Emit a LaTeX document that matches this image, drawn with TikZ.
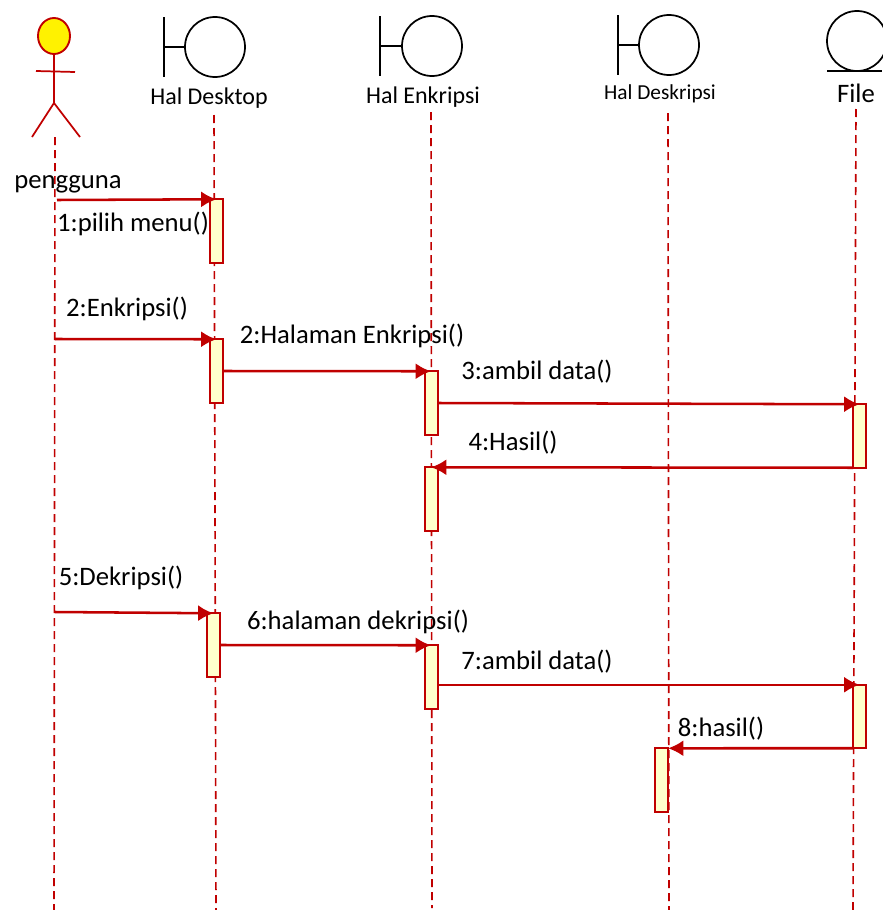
\documentclass[tikz,border=0pt]{standalone}
\usepackage{fontspec}
\setmainfont{Carlito}
\usetikzlibrary{arrows.meta,shapes.geometric}
\definecolor{umlred}{RGB}{192,0,0}
\definecolor{umlfill}{RGB}{255,255,204}
\tikzset{
    boundary/.style={circle,draw=black,line width=1.3pt,minimum size=45pt,inner sep=0pt,outer sep=0pt},
    head/.style={ellipse,draw=umlred,fill=yellow,line width=1.4pt,minimum width=24pt,minimum height=27pt,inner sep=0pt,outer sep=0pt},
    active/.style={rectangle,draw=umlred,fill=umlfill,line width=1.5pt,minimum width=9.75pt,minimum height=47.6pt,inner sep=0pt,outer sep=0pt},
    lifeline/.style={draw=umlred,line width=1.2pt,dash pattern=on 6pt off 3.75pt},
    stick/.style={draw=umlred,line width=1.3pt},
    bar/.style={draw=black,line width=1.3pt},
    msg/.style={draw=umlred,line width=1.9pt,-{Latex[length=11.5pt,width=12pt]}},
    label/.style={inner sep=0pt,font=\fontsize{20}{22}\selectfont},
    title/.style={inner sep=0pt,font=\fontsize{18}{20}\selectfont},
}
\begin{document}
\begin{tikzpicture}[x=0.75pt,y=-0.75pt]
\useasboundingbox (0,0) rectangle (882,910);
% lifelines
\coordinate (Pe) at (54,910);
\coordinate (Pt) at (55,137);
\coordinate (Dt) at (214,115);
\coordinate (De) at (216,910);
\coordinate (Et) at (431,112);
\coordinate (Ee) at (432,908);
\coordinate (St) at (668,113);
\coordinate (Se) at (669,910);
\coordinate (Ft) at (856,109);
\coordinate (Fe) at (853,910);
\draw[lifeline] (Pt) -- (Pe);
\draw[lifeline] (Dt) -- (De);
\draw[lifeline] (Et) -- (Ee);
\draw[lifeline] (St) -- (Se);
\draw[lifeline] (Ft) -- (Fe);
% pengguna
\node[head] (Ph) at (54,36) {};
\coordinate (Pw) at (54,103);
\coordinate (Pa) at (36,71);
\coordinate (Pb) at (75,72);
\coordinate (Pc) at (32,137);
\coordinate (Pd) at (80,137);
\draw[stick] (Ph) -- (Pw);
\draw[stick] (Pa) -- (Pb);
\draw[stick] (Pc) -- (Pw) -- (Pd);
\node[label] (Pn) at (68,184) {pengguna};
% boundaries
\node[boundary] (D) at (215,47) {};
\coordinate (D1) at (164,17);
\coordinate (D2) at (164,77);
\coordinate (D3) at (164,47);
\draw[bar] (D1) -- (D2);
\draw[bar] (D3) -- (D);
\node[title] (Dn) at (209,98) {Hal Desktop};
\node[boundary] (E) at (432,46) {};
\coordinate (E1) at (380,16);
\coordinate (E2) at (380,76);
\coordinate (E3) at (380,46);
\draw[bar] (E1) -- (E2);
\draw[bar] (E3) -- (E);
\node[title] (En) at (423,97) {Hal Enkripsi};
\node[boundary] (S) at (669,45) {};
\coordinate (S1) at (618,15);
\coordinate (S2) at (618,75);
\coordinate (S3) at (618,45);
\draw[bar] (S1) -- (S2);
\draw[bar] (S3) -- (S);
\node[title,font=\fontsize{16}{18}\selectfont] (Sn) at (660,94) {Hal Deskripsi};
\node[boundary] (F) at (857,41) {};
\coordinate (F1) at (827,71);
\coordinate (F2) at (882,71);
\draw[bar] (F1) -- (F2);
\node[label] (Fn) at (856,93) {File};
% activations
\node[active] (d1) at (216.5,231) {};
\node[active] (d2) at (216.5,371) {};
\node[active] (d3) at (213.5,645) {};
\node[active] (e1) at (431,403) {};
\node[active] (e2) at (431,499) {};
\node[active] (e3) at (431,677) {};
\node[active] (s1) at (661.5,780) {};
\node[active] (f1) at (859.5,436) {};
\node[active] (f2) at (859.5,716.5) {};
% messages
\coordinate (m1) at (57,200);
\coordinate (m2) at (55,339);
\coordinate (m5) at (55,612);
\draw[msg] (m1) -- (d1.north);
\draw[msg] (m2) -- (d2.north);
\draw[msg] (d2.east) -- (e1.north);
\draw[msg] (e1.east) -- (f1.north);
\draw[msg] (f1.south west) -- (e2.north);
\draw[msg] (m5) -- (d3.north);
\draw[msg] (d3.east) -- (e3.north);
\draw[msg] (e3.east |- f2.north) -- (f2.north);
\draw[msg] (f2.south west) -- (s1.north east);
% message labels
\node[label] (l1) at (133,224) {1:pilih menu()};
\node[label] (l2) at (127,309) {2:Enkripsi()};
\node[label] (l3) at (352,336) {2:Halaman Enkripsi()};
\node[label] (l4) at (537,372) {3:ambil data()};
\node[label] (l5) at (513,443) {4:Hasil()};
\node[label] (l6) at (121,578) {5:Dekripsi()};
\node[label] (l7) at (358,622) {6:halaman dekripsi()};
\node[label] (l8) at (537,662) {7:ambil data()};
\node[label] (l9) at (721,729) {8:hasil()};
\end{tikzpicture}
\end{document}
